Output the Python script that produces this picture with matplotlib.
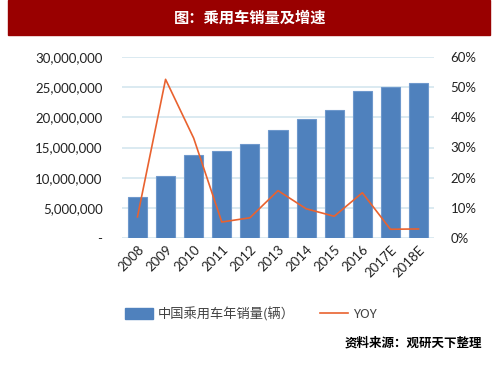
import matplotlib
matplotlib.use("Agg")
import matplotlib.pyplot as plt
from matplotlib.patches import Rectangle
from matplotlib.lines import Line2D
from matplotlib.ticker import FuncFormatter, MultipleLocator

plt.rcParams['font.family'] = ['Lato', 'Noto Sans CJK SC', 'DejaVu Sans']

# datos
anios = ["2008", "2009", "2010", "2011", "2012", "2013", "2014", "2015", "2016", "2017E", "2018E"]
ventas = [6800000, 10300000, 13800000, 14500000, 15500000, 17950000, 19800000,
          21150000, 24300000, 25000000, 25700000]
yoy = [0.070, 0.526, 0.331, 0.053, 0.067, 0.157, 0.097, 0.072, 0.150, 0.029, 0.030]

azul = '#4F81BD'
naranja = '#E9622F'
rejilla = '#D4E6EF'
texto = '#222222'

fig = plt.figure(figsize=(5, 3.75), dpi=100)

# barra del titulo
fig.patches.append(Rectangle((8/500, 1-35/375), 482/500, 35/375,
                             transform=fig.transFigure, color='#990000', zorder=0))
fig.text(0.5, 1-18/375, "图：乘用车销量及增速", color='white', fontsize=11,
         fontweight='bold', ha='center', va='center', family=['Noto Sans CJK SC'])

ax = fig.add_axes([122/500, 1-238/375, 312/500, 181/375])
x = range(len(anios))
ax.bar(x, ventas, width=0.68, color=azul, edgecolor='#6E98CC', linewidth=0.8, zorder=2)
ax.set_xlim(-0.55, len(anios)-0.45)
ax.set_ylim(0, 30000000)
ax.yaxis.set_major_locator(MultipleLocator(5000000))
ax.yaxis.set_major_formatter(FuncFormatter(lambda v, p: "-" if v == 0 else f"{int(v):,}"))
ax.grid(axis='y', color=rejilla, linewidth=1.2, zorder=0)
ax.set_axisbelow(True)
for s in ax.spines.values():
    s.set_visible(False)
ax.tick_params(length=0, labelsize=9.5, colors=texto, pad=14)
ax.tick_params(axis='x', pad=4)
ax.set_xticks(list(x))
ax.set_xticklabels(anios, rotation=45, ha='right', rotation_mode='anchor')

ax2 = ax.twinx()
ax2.plot(x, yoy, color=naranja, linewidth=1.2, zorder=3)
ax2.set_ylim(0, 0.6)
ax2.yaxis.set_major_locator(MultipleLocator(0.1))
ax2.yaxis.set_major_formatter(FuncFormatter(lambda v, p: f"{v*100:.0f}%"))
for s in ax2.spines.values():
    s.set_visible(False)
ax2.tick_params(length=0, labelsize=9.5, colors=texto, pad=12)

# leyenda
handles = [Rectangle((0, 0), 1, 1, color=azul),
           Line2D([0], [0], color=naranja, linewidth=1.2)]
fig.legend(handles, ["中国乘用车年销量(辆）", "YOY"], loc='center', ncol=2,
           bbox_to_anchor=(251/500, 1-314/375), frameon=False,
           handlelength=2.1, handleheight=0.9, columnspacing=1.9, handletextpad=0.4,
           prop={'family': ['Noto Sans CJK SC'], 'size': 9.5}, labelcolor='#404040')

fig.text(482/500, 1-343/375, "资料来源：观研天下整理", fontsize=9, fontweight='bold',
         ha='right', va='center', family=['Noto Sans CJK SC'], color='black')

fig.savefig("out.png", dpi=100)
